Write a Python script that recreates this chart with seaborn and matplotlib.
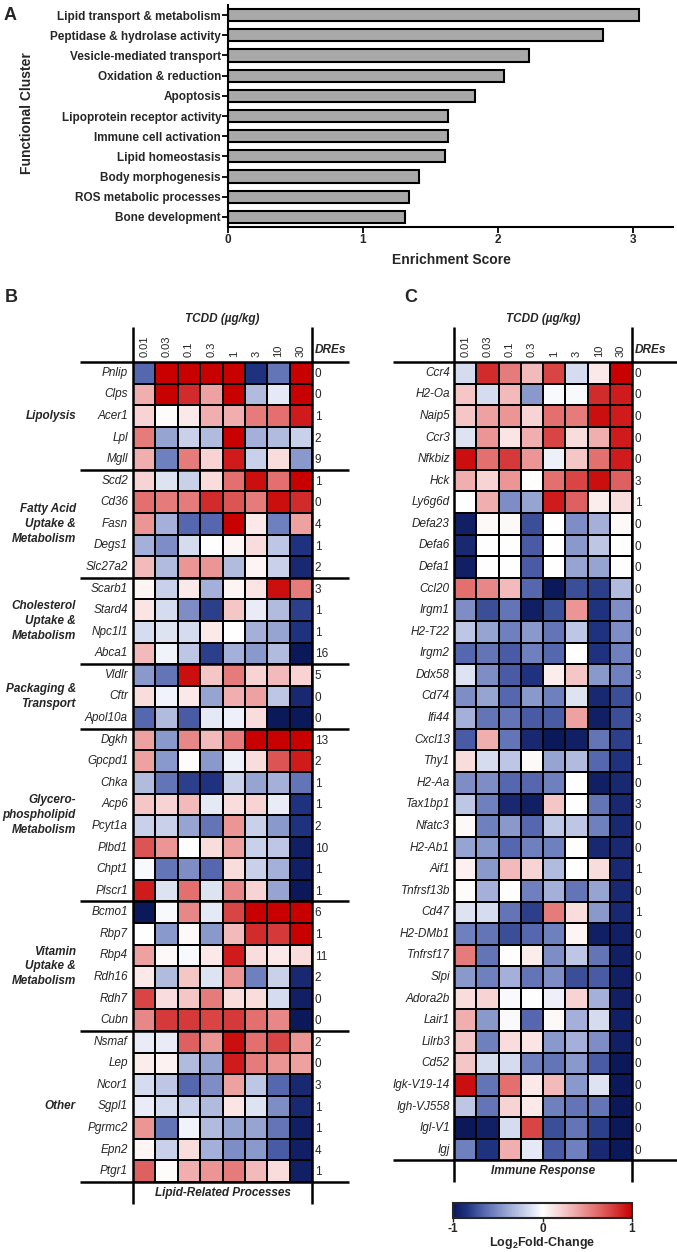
import numpy as np
import pandas as pd
import seaborn as sns
import matplotlib.pyplot as plt
from matplotlib.colors import LinearSegmentedColormap

# Panel A - functional clusters
clusters = ["Lipid transport & metabolism", "Peptidase & hydrolase activity",
            "Vesicle-mediated transport", "Oxidation & reduction", "Apoptosis",
            "Lipoprotein receptor activity", "Immune cell activation",
            "Lipid homeostasis", "Body morphogenesis", "ROS metabolic processes",
            "Bone development"]
scores = [3.05, 2.78, 2.23, 2.05, 1.83, 1.63, 1.63, 1.61, 1.42, 1.34, 1.31]

doses = ["0.01", "0.03", "0.1", "0.3", "1", "3", "10", "30"]

# Panel B - lipid related genes
lipid_groups = ["Lipolysis", "Fatty Acid\nUptake &\nMetabolism",
                "Cholesterol\nUptake &\nMetabolism", "Packaging &\nTransport",
                "Glycero-\nphospholipid\nMetabolism", "Vitamin\nUptake &\nMetabolism",
                "Other"]
lipid_group_sizes = [5, 5, 4, 3, 8, 6, 7]
lipid_genes = ["Pnlip", "Clps", "Acer1", "Lpl", "Mgll",
               "Scd2", "Cd36", "Fasn", "Degs1", "Slc27a2",
               "Scarb1", "Stard4", "Npc1l1", "Abca1",
               "Vldlr", "Cftr", "Apol10a",
               "Dgkh", "Gpcpd1", "Chka", "Acp6", "Pcyt1a", "Plbd1", "Chpt1", "Plscr1",
               "Bcmo1", "Rbp7", "Rbp4", "Rdh16", "Rdh7", "Cubn",
               "Nsmaf", "Lep", "Ncor1", "Sgpl1", "Pgrmc2", "Epn2", "Ptgr1"]
lipid_dres = [0, 0, 1, 2, 9, 1, 0, 4, 1, 2, 3, 1, 1, 16, 5, 0, 0,
              13, 2, 1, 1, 2, 10, 1, 1, 6, 1, 11, 2, 0, 0, 2, 0, 3, 1, 1, 4, 1]
lipid_fc = [
    [-0.65, 1.0, 1.0, 1.0, 1.0, -0.85, -0.6, 1.0],
    [0.35, 1.0, 0.85, 0.4, 1.0, -0.3, -0.1, 1.0],
    [0.2, 0.02, 0.1, 0.35, 0.35, 0.55, 0.6, 0.9],
    [0.55, -0.4, -0.2, -0.3, 1.0, -0.35, -0.3, -0.2],
    [0.35, -0.55, 0.55, 0.2, 0.9, -0.2, 0.15, -0.45],
    [0.2, -0.12, -0.2, 0.15, 0.6, 0.95, 0.6, 1.0],
    [0.6, 0.55, 0.55, 0.85, 0.7, 0.55, 0.95, 0.85],
    [0.45, -0.35, -0.65, -0.65, 1.0, 0.1, -0.55, 0.4],
    [-0.35, -0.5, -0.15, 0.0, 0.05, 0.15, -0.25, -0.85],
    [0.3, -0.3, 0.45, 0.45, -0.3, 0.05, -0.2, -0.9],
    [0.05, -0.2, 0.1, -0.35, 0.05, 0.12, 0.95, 0.55],
    [0.12, -0.15, -0.5, -0.8, 0.25, -0.08, -0.3, -0.8],
    [-0.15, -0.12, -0.15, 0.1, 0.0, -0.35, -0.4, -0.85],
    [0.3, -0.05, -0.25, -0.8, -0.35, -0.45, -0.3, -1.0],
    [-0.45, -0.6, 0.95, 0.25, 0.55, 0.2, 0.3, 0.2],
    [0.15, -0.05, 0.1, -0.4, 0.35, 0.4, -0.25, -0.9],
    [-0.65, -0.3, -0.7, -0.1, -0.07, 0.15, -1.0, -1.0],
    [0.4, -0.45, 0.5, 0.3, 0.55, 1.0, 1.0, 1.0],
    [0.4, -0.45, 0.02, -0.45, -0.07, 0.15, 0.7, 0.9],
    [-0.3, -0.6, -0.8, -0.85, -0.2, -0.4, -0.35, -0.6],
    [0.25, 0.2, 0.3, -0.1, 0.15, 0.2, -0.08, -0.85],
    [-0.2, -0.2, -0.4, -0.6, 0.45, -0.2, -0.45, -0.85],
    [0.7, 0.45, 0.0, 0.15, 0.4, -0.2, -0.25, -0.95],
    [-0.03, -0.6, -0.5, -0.65, 0.15, -0.2, -0.35, -0.95],
    [0.9, -0.12, 0.6, -0.12, 0.5, 0.2, -0.4, -1.0],
    [-1.0, -0.03, 0.5, -0.1, 0.75, 1.0, 1.0, 1.0],
    [0.0, -0.45, 0.03, -0.45, 0.3, 0.85, 0.8, 1.0],
    [0.4, 0.03, -0.03, 0.1, 0.9, 0.15, 0.1, 0.15],
    [0.1, -0.3, 0.25, -0.12, 0.45, -0.55, -0.2, -0.9],
    [0.75, 0.15, 0.25, 0.55, 0.15, 0.15, -0.15, -0.95],
    [0.5, 0.8, 0.8, 0.75, 0.8, 0.6, 0.5, -1.0],
    [-0.08, -0.08, 0.65, 0.45, 0.95, 0.6, 0.75, 0.45],
    [0.08, 0.06, -0.3, -0.4, 0.9, 0.55, 0.45, 0.4],
    [-0.15, -0.25, -0.65, -0.5, 0.4, -0.25, -0.65, -0.9],
    [-0.08, -0.15, -0.2, -0.3, 0.12, -0.12, -0.5, -0.9],
    [0.45, -0.6, -0.05, -0.3, -0.4, -0.4, -0.6, -0.95],
    [0.05, -0.2, 0.15, -0.35, -0.5, -0.45, -0.7, -0.95],
    [0.65, 0.02, 0.35, 0.45, 0.55, 0.3, 0.15, -0.95],
]

# Panel C - immune response genes
immune_genes = ["Ccr4", "H2-Oa", "Naip5", "Ccr3", "Nfkbiz", "Hck", "Ly6g6d",
                "Defa23", "Defa6", "Defa1", "Ccl20", "Irgm1", "H2-T22", "Irgm2",
                "Ddx58", "Cd74", "Ifi44", "Cxcl13", "Thy1", "H2-Aa", "Tax1bp1",
                "Nfatc3", "H2-Ab1", "Aif1", "Tnfrsf13b", "Cd47", "H2-DMb1",
                "Tnfrsf17", "Slpi", "Adora2b", "Lair1", "Lilrb3", "Cd52",
                "Igk-V19-14", "Igh-VJ558", "Igl-V1", "Igj"]
immune_dres = [0, 0, 0, 0, 0, 3, 1, 0, 0, 0, 0, 0, 0, 0, 3, 0, 3, 1, 1, 0, 3,
               0, 0, 1, 0, 1, 0, 0, 0, 0, 0, 0, 0, 0, 0, 0, 0]
immune_fc = [
    [-0.15, 0.85, 0.55, 0.3, 0.75, -0.15, 0.1, 1.0],
    [0.25, -0.15, 0.3, -0.45, -0.03, -0.03, 0.85, 0.9],
    [0.25, 0.4, 0.45, 0.2, 0.6, 0.55, 0.95, 0.9],
    [-0.12, 0.45, 0.12, 0.35, 0.75, 0.15, 0.35, 0.9],
    [0.95, 0.6, 0.8, 0.45, -0.07, 0.25, 0.6, 0.9],
    [0.35, 0.2, 0.45, 0.0, 0.6, 0.75, 0.95, 0.65],
    [0.0, 0.35, -0.5, -0.4, 0.9, 0.65, 0.08, 0.15],
    [-0.95, 0.03, 0.03, -0.75, 0.0, -0.5, -0.35, 0.03],
    [-0.9, 0.0, 0.0, -0.7, 0.0, -0.45, -0.25, 0.0],
    [-0.95, 0.0, 0.0, -0.7, 0.0, -0.4, -0.4, 0.0],
    [0.6, 0.5, 0.3, -0.65, -1.0, -0.75, -0.8, -0.3],
    [-0.5, -0.75, -0.6, -0.95, -0.75, 0.45, -0.85, -0.5],
    [-0.25, -0.4, -0.55, -0.45, -0.6, -0.25, -0.85, -0.5],
    [-0.65, -0.6, -0.7, -0.55, -0.65, 0.0, -0.85, -0.55],
    [-0.12, -0.5, -0.7, -0.85, 0.08, 0.25, -0.45, -0.55],
    [-0.5, -0.4, -0.65, -0.45, -0.55, -0.12, -0.9, -0.75],
    [-0.35, -0.6, -0.6, -0.7, -0.7, 0.4, -0.95, -0.75],
    [-0.7, 0.35, -0.6, -0.9, -1.0, -0.95, -0.6, -0.8],
    [0.15, -0.15, -0.25, 0.03, -0.4, -0.3, -0.65, -0.85],
    [-0.5, -0.5, -0.65, -0.65, -0.55, 0.0, -0.95, -0.9],
    [-0.25, -0.55, -0.9, -0.95, 0.25, 0.0, -0.6, -0.9],
    [0.03, -0.55, -0.45, -0.65, -0.25, -0.25, -0.55, -0.9],
    [-0.4, -0.45, -0.65, -0.55, -0.55, 0.0, -0.9, -0.9],
    [0.07, -0.45, 0.3, 0.2, -0.3, 0.0, 0.15, -0.9],
    [0.02, -0.35, 0.0, -0.55, -0.35, -0.6, -0.4, -0.9],
    [-0.12, -0.15, -0.6, -0.8, 0.55, 0.15, -0.45, -0.9],
    [-0.55, -0.6, -0.75, -0.65, -0.55, 0.05, -0.95, -0.95],
    [0.55, -0.6, 0.0, 0.08, -0.5, -0.25, -0.6, -0.95],
    [-0.45, -0.55, -0.35, -0.6, -0.5, -0.75, -0.7, -0.95],
    [0.15, 0.2, -0.02, 0.0, -0.07, 0.2, -0.35, -0.95],
    [0.35, -0.45, -0.02, -0.65, 0.03, -0.35, -0.15, -0.95],
    [0.25, -0.55, 0.15, 0.12, -0.45, -0.35, -0.5, -0.95],
    [0.25, -0.15, -0.15, -0.55, -0.6, -0.45, -0.7, -1.0],
    [0.95, -0.6, 0.6, 0.1, 0.3, -0.45, -0.12, -1.0],
    [-0.25, -0.6, 0.2, 0.1, -0.55, -0.6, -0.6, -1.0],
    [-1.0, -0.95, -0.15, 0.75, -0.75, -0.6, -0.8, -1.0],
    [-0.55, -0.85, 0.35, -0.1, -0.7, -0.55, -0.9, -1.0],
]

sns.set_style("ticks")
plt.rcParams["font.family"] = ["Liberation Sans", "DejaVu Sans"]
plt.rcParams["mathtext.fontset"] = "custom"
plt.rcParams["mathtext.rm"] = "Liberation Sans"
plt.rcParams["mathtext.bf"] = "Liberation Sans:bold"
plt.rcParams["axes.unicode_minus"] = False

# blue - white - red, stops given on the -1..1 scale
cmap = LinearSegmentedColormap.from_list("fc", [
    (0.0, "#0b1859"), (0.075, "#1f3280"), (0.175, "#5669b0"), (0.3, "#97a5d3"),
    (0.4, "#c9d1ea"), (0.5, "#ffffff"), (0.6, "#f7d3d3"), (0.7, "#eea2a2"),
    (0.8, "#e36f6f"), (0.9, "#d63a3a"), (1.0, "#c80000")])

W, H = 677, 1252
fig = plt.figure(figsize=(W / 100, H / 100), dpi=100)


def box(l, t, r, b):
    return fig.add_axes([l / W, 1 - b / H, (r - l) / W, (b - t) / H])


# ---- A: enrichment bars
axA = box(228, 5, 673, 227)
dfA = pd.DataFrame({"cluster": clusters, "score": scores})
sns.barplot(data=dfA, x="score", y="cluster", color="#a9a9a9", saturation=1,
            edgecolor="black", linewidth=1.5, width=0.6, ax=axA)
axA.set_xlim(0, 3.3)
axA.set_ylim(10.5, -0.5)
axA.set_xticks([0, 1, 2, 3])
axA.set_xlabel("")
axA.set_ylabel("")
sns.despine(ax=axA)
for s in ["left", "bottom"]:
    axA.spines[s].set_linewidth(1.5)
    axA.spines[s].set_color("black")
axA.tick_params(axis="both", length=4, width=1.3, color="black", labelsize=8.5, pad=1)
for lab in axA.get_yticklabels() + axA.get_xticklabels():
    lab.set_fontweight("bold")
fig.text(4 / W, 1 - 15 / H, "A", fontsize=13, fontweight="bold", va="center")
fig.text(27 / W, 1 - 113 / H, "Functional Cluster", fontsize=10, fontweight="bold",
         rotation=90, ha="center", va="center")
fig.text(451 / W, 1 - 260 / H, "Enrichment Score", fontsize=10, fontweight="bold",
         ha="center", va="center")


# ---- B / C: heatmaps
def draw_heatmap(ax, genes, values, dres, bottom_label, x_left, x_right, ypad):
    n = len(genes)
    df = pd.DataFrame(values, index=genes, columns=doses)
    sns.heatmap(df, ax=ax, cmap=cmap, vmin=-1, vmax=1, cbar=False,
                linewidths=1.2, linecolor="black")
    ax.xaxis.tick_top()
    ax.set_xticks(np.arange(len(doses)) + 0.5)
    ax.set_xticklabels(doses, rotation=90, fontsize=8)
    ax.set_yticks(np.arange(n) + 0.5)
    ax.set_yticklabels(genes, rotation=0, fontsize=8.5, fontstyle="italic")
    ax.tick_params(axis="x", length=0, pad=3.5)
    ax.tick_params(axis="y", length=0, pad=ypad)
    ax.set_xlabel("")
    ax.set_ylabel("")
    kw = dict(color="black", lw=1.8, clip_on=False, solid_capstyle="butt")
    for xv in [0, len(doses)]:
        ax.plot([xv, xv], [-1.62, n + 1.02], **kw)
    for yv in [0, n]:
        ax.plot([x_left, x_right], [yv, yv], **kw)
    ax.text(4, -2.0, "TCDD (µg/kg)", ha="center", va="center", fontsize=8.5,
            fontweight="bold", fontstyle="italic")
    ax.text(8.12, -0.55, "DREs", ha="left", va="center", fontsize=8.5,
            fontweight="bold", fontstyle="italic")
    for i, d in enumerate(dres):
        ax.text(8.12, i + 0.55, str(d), ha="left", va="center", fontsize=8.5)
    ax.text(4, n + 0.5, bottom_label, ha="center", va="center", fontsize=8.5,
            fontweight="bold", fontstyle="italic")
    return n


axB = box(133, 362, 312, 1182)
draw_heatmap(axB, lipid_genes, lipid_fc, lipid_dres, "Lipid-Related Processes",
             -2.37, 9.64, 3.6)
start = 0
for name, size in zip(lipid_groups, lipid_group_sizes):
    if start > 0:
        axB.plot([-2.37, 9.64], [start, start], color="black", lw=1.8,
                 clip_on=False, solid_capstyle="butt")
    axB.text(-2.55, start + size / 2, name, ha="right", va="center", fontsize=8.5,
             fontweight="bold", fontstyle="italic", linespacing=1.3,
             multialignment="right")
    start += size

axC = box(454, 362, 632, 362 + 37 * 21.58)
draw_heatmap(axC, immune_genes, immune_fc, immune_dres, "Immune Response",
             -2.74, 10.0, 3.0)

fig.text(5 / W, 1 - 297 / H, "B", fontsize=13, fontweight="bold", va="center")
fig.text(404 / W, 1 - 298 / H, "C", fontsize=13, fontweight="bold", va="center")

# ---- colorbar
cax = box(453, 1203, 632, 1218)
cb = fig.colorbar(axC.collections[0], cax=cax, orientation="horizontal", ticks=[-1, 0, 1])
cb.outline.set_linewidth(1.5)
cax.tick_params(length=3, width=1, labelsize=8.5, pad=0.5)
for lab in cax.get_xticklabels():
    lab.set_fontweight("bold")
cax.set_xlabel(r"Log$_\mathbf{2}$Fold-Change", fontsize=9, fontweight="bold", labelpad=0)

fig.savefig("out.png", dpi=100)
